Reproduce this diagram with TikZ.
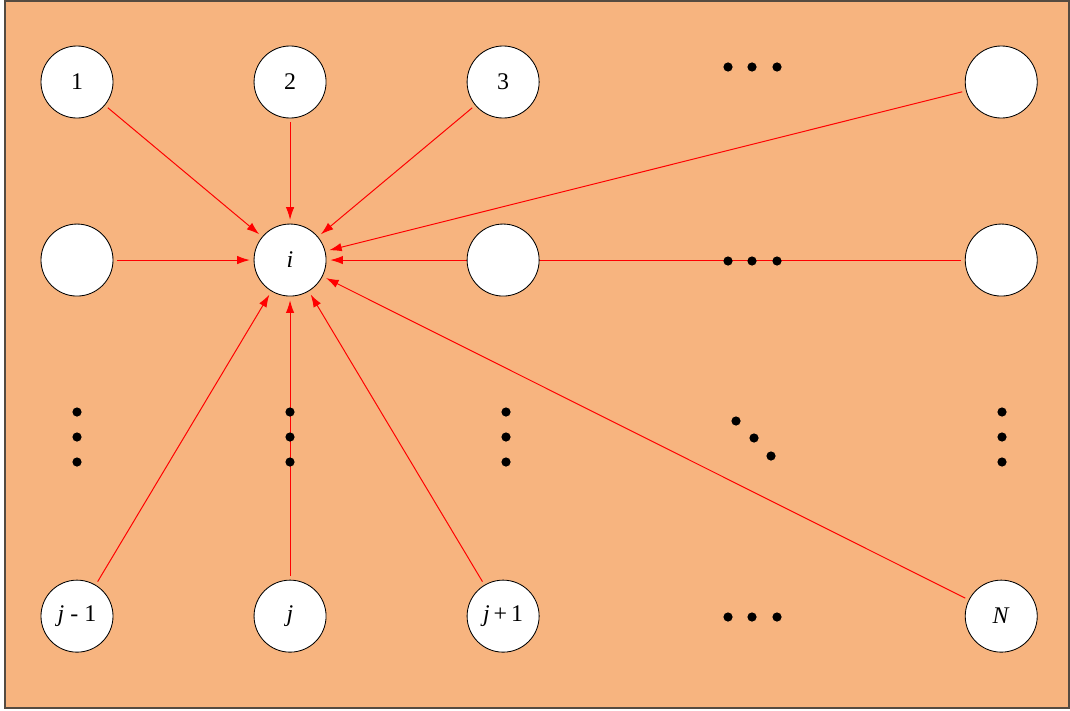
\documentclass[tikz,border=0pt]{standalone}
\usepackage{fontspec}
\setmainfont{Liberation Serif}
\usetikzlibrary{arrows.meta, positioning, backgrounds}
\definecolor{panel}{RGB}{247,180,127}
\definecolor{frameline}{RGB}{85,75,65}

\begin{document}
\begin{tikzpicture}[
    x=0.025cm, y=-0.025cm,
    on grid,
    node distance=4.45cm and 5.325cm,
    vtx/.style={circle, draw, fill=white, minimum size=1.8cm, inner sep=0pt, outer sep=3pt, line width=0.6pt, font=\fontsize{17}{20}\selectfont},
    arrow/.style={-{Latex[length=9pt,width=6pt]}, red, line width=0.7pt}
]
\useasboundingbox (0,0) rectangle (1070,710);

\node[vtx] (n1) at (77,82) {1};
\node[vtx, right=of n1] (n2) {2};
\node[vtx, right=of n2] (n3) {3};
\node[vtx, right=12.45cm of n3] (top) {};
\node[vtx, below=of n1] (left) {};
\node[vtx, below=of n2] (i) {\textit{i}};
\node[vtx, below=of n3] (mid) {};
\node[vtx, below=of top] (right) {};
\node[vtx, below=8.9cm of left] (jm) {\textit{j} - 1};
\node[vtx, right=of jm] (j) {\textit{j}};
\node[vtx, right=of j] (jp) {\textit{j}\,+\,1};
\node[vtx, below=8.9cm of right] (nN) {\textit{N}};

\begin{scope}[on background layer]
\draw[frameline, fill=panel, line width=1pt] (5,1) rectangle (1069,708);
\foreach \src in {n1, n2, n3, top, left, right, jm, j, jp, nN}
    \draw[arrow] (\src) -- (i);
\end{scope}

% dots
\foreach \y in {67, 261, 617}
    \foreach \x in {728, 752, 777}
        \fill (\x,\y) circle (0.115cm);
\foreach \x in {77, 290, 506, 1002}
    \foreach \y in {412, 437, 462}
        \fill (\x,\y) circle (0.115cm);
\foreach \x/\y in {736/421, 754/438, 771/456}
    \fill (\x,\y) circle (0.115cm);
\end{tikzpicture}
\end{document}
